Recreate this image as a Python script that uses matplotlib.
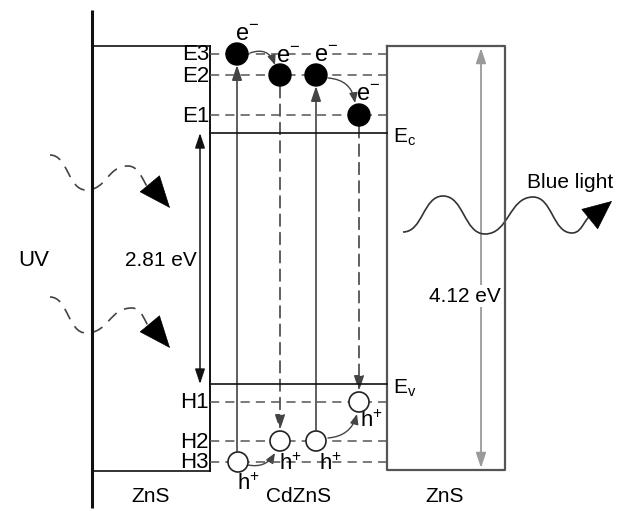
import matplotlib
matplotlib.use("Agg")
import matplotlib.pyplot as plt
from matplotlib.patches import Circle, FancyArrowPatch, PathPatch
from matplotlib.path import Path

plt.rcParams['font.family'] = ['Liberation Sans', 'DejaVu Sans']

# ---- data (pixel-space diagram) ----
region_labels = ["ZnS", "CdZnS", "ZnS"]
electron_levels = ["E3", "E2", "E1"]
electron_y = [54, 75, 115]
hole_levels = ["H1", "H2", "H3"]
hole_y = [402, 441, 462]
Ec_y, Ev_y = 133, 384
gap_cd = "2.81 eV"
gap_zns = "4.12 eV"

electron_x = [237, 280, 316, 359]
electron_lv = [54, 75, 75, 115]
hole_x = [238, 280, 316, 359]
hole_lv = [462, 441, 441, 402]

fig = plt.figure(figsize=(6.18, 5.11), dpi=100)
ax = fig.add_axes([0, 0, 1, 1])
ax.set_xlim(0, 618)
ax.set_ylim(511, 0)
ax.axis('off')

K = '#111111'
G = '#444444'
LG = '#9a9a9a'

xL, xC1, xC2, xR = 92, 210, 387, 505
top, bot = 46, 471

ax.plot([xL, xL], [10, 508], color=K, lw=2.2, solid_capstyle='butt')
ax.plot([xL, xC1], [top, top], color=K, lw=1.2)
ax.plot([xL, xC1], [bot, bot], color=K, lw=1.2)
ax.plot([xC1, xC1], [top, bot], color=K, lw=1.4)
ax.plot([xC2, xC2, xR, xR, xC2], [top, 470, 470, top, top], color='#555555', lw=1.6)
ax.plot([xC1, xC2], [Ec_y, Ec_y], color=K, lw=1.2)
ax.plot([xC1, xC2], [Ev_y, Ev_y], color=K, lw=1.2)
ax.text(393, Ec_y + 4, "E$_\\mathregular{c}$", fontsize=15, va='center', ha='left')
ax.text(393, Ev_y + 4, "E$_\\mathregular{v}$", fontsize=15, va='center', ha='left')

for name, y in zip(electron_levels + hole_levels, electron_y + hole_y):
    ax.plot([xC1, xC2], [y, y], color='#555555', lw=1.1, dashes=(6, 4))
    ax.text(xC1 - 1, y + 1, name, fontsize=16, ha='right', va='center')

def varrow(x, y0, y1, dashed):
    a = FancyArrowPatch((x, y0), (x, y1), arrowstyle='-|>,head_length=9,head_width=3',
                        color=G, lw=1.2, linestyle=(0, (7, 4)) if dashed else '-',
                        shrinkA=0, shrinkB=0, mutation_scale=1)
    ax.add_patch(a)

r = 11
varrow(electron_x[0], hole_lv[0] - r, electron_lv[0] + r, False)
varrow(electron_x[1], electron_lv[1] + r, hole_lv[1] - r, True)
varrow(electron_x[2], hole_lv[2] - r, electron_lv[2] + r, False)
varrow(electron_x[3], electron_lv[3] + r, hole_lv[3] - r, True)

for x, y in zip(electron_x, electron_lv):
    ax.add_patch(Circle((x, y), r, facecolor='black', edgecolor='black', zorder=5))
for x, y in zip(hole_x, hole_lv):
    ax.add_patch(Circle((x, y), 10, facecolor='white', edgecolor='#222222', lw=1.2, zorder=5))

for x, y in [(247, 35), (288, 57), (326, 56), (368, 95)]:
    ax.text(x, y, "e$^{\\mathregular{-}}$", fontsize=17, ha='center', va='center')
for x, y in [(248, 484), (290, 464), (330, 464), (371, 421)]:
    ax.text(x, y, "h$^{\\mathregular{+}}$", fontsize=16, ha='center', va='center')

def carc(p0, p1, rad):
    a = FancyArrowPatch(p0, p1, connectionstyle=f"arc3,rad={rad}",
                        arrowstyle='-|>,head_length=6,head_width=2.5', mutation_scale=1,
                        color=G, lw=1.0, shrinkA=0, shrinkB=0)
    ax.add_patch(a)

carc((250, 53), (275, 65), -0.5)
carc((328, 78), (355, 103), -0.4)
carc((248, 465), (275, 453), 0.35)
carc((328, 438), (357, 414), 0.35)

ax.add_patch(FancyArrowPatch((200, Ev_y), (200, Ec_y), arrowstyle='<|-|>,head_length=9,head_width=3',
                             mutation_scale=1, color=K, lw=1.1, shrinkA=0, shrinkB=0))
ax.text(197, 260, gap_cd, fontsize=15, ha='right', va='center', bbox=dict(fc='white', ec='none', pad=1))
ax.add_patch(FancyArrowPatch((481, 468), (481, 48), arrowstyle='<|-|>,head_length=9,head_width=3',
                             mutation_scale=1, color=LG, lw=1.3, shrinkA=0, shrinkB=0))
ax.text(465, 296, gap_zns, fontsize=15, ha='center', va='center', bbox=dict(fc='white', ec='none', pad=1))

def wave(pts, dashed, color):
    verts = [pts[0]]
    codes = [Path.MOVETO]
    for (x0, y0), (x1, y1) in zip(pts[:-1], pts[1:]):
        dx = (x1 - x0) * 0.5
        verts += [(x0 + dx, y0), (x1 - dx, y1), (x1, y1)]
        codes += [Path.CURVE4] * 3
    ax.add_patch(PathPatch(Path(verts, codes), fill=False, color=color, lw=1.2,
                           linestyle=(0, (7, 5)) if dashed else '-'))

uv1 = [(50, 155), (86, 190), (128, 166), (160, 196)]
uv2 = [(50, 297), (86, 333), (132, 308), (160, 336)]
for w in (uv1, uv2):
    wave(w, True, G)
    ax.add_patch(FancyArrowPatch(w[-1], (w[-1][0] + 10, w[-1][1] + 12), arrowstyle='-|>,head_length=22,head_width=9',
                                 mutation_scale=1, color='black', lw=0.5, shrinkA=0, shrinkB=0))
blue = [(403, 232), (443, 196), (485, 234), (533, 197), (572, 233), (596, 214)]
wave(blue, False, '#333333')
ax.add_patch(FancyArrowPatch((596, 214), (612, 201), arrowstyle='-|>,head_length=20,head_width=9',
                             mutation_scale=1, color='black', lw=0.5, shrinkA=0, shrinkB=0))
ax.text(570, 182, "Blue light", fontsize=15, ha='center', va='center')
ax.text(34, 260, "UV", fontsize=16, ha='center', va='center')

for name, x in zip(region_labels, [151, 299, 445]):
    ax.text(x, 497, name, fontsize=15, ha='center', va='center')

fig.savefig("out.png", dpi=100)
